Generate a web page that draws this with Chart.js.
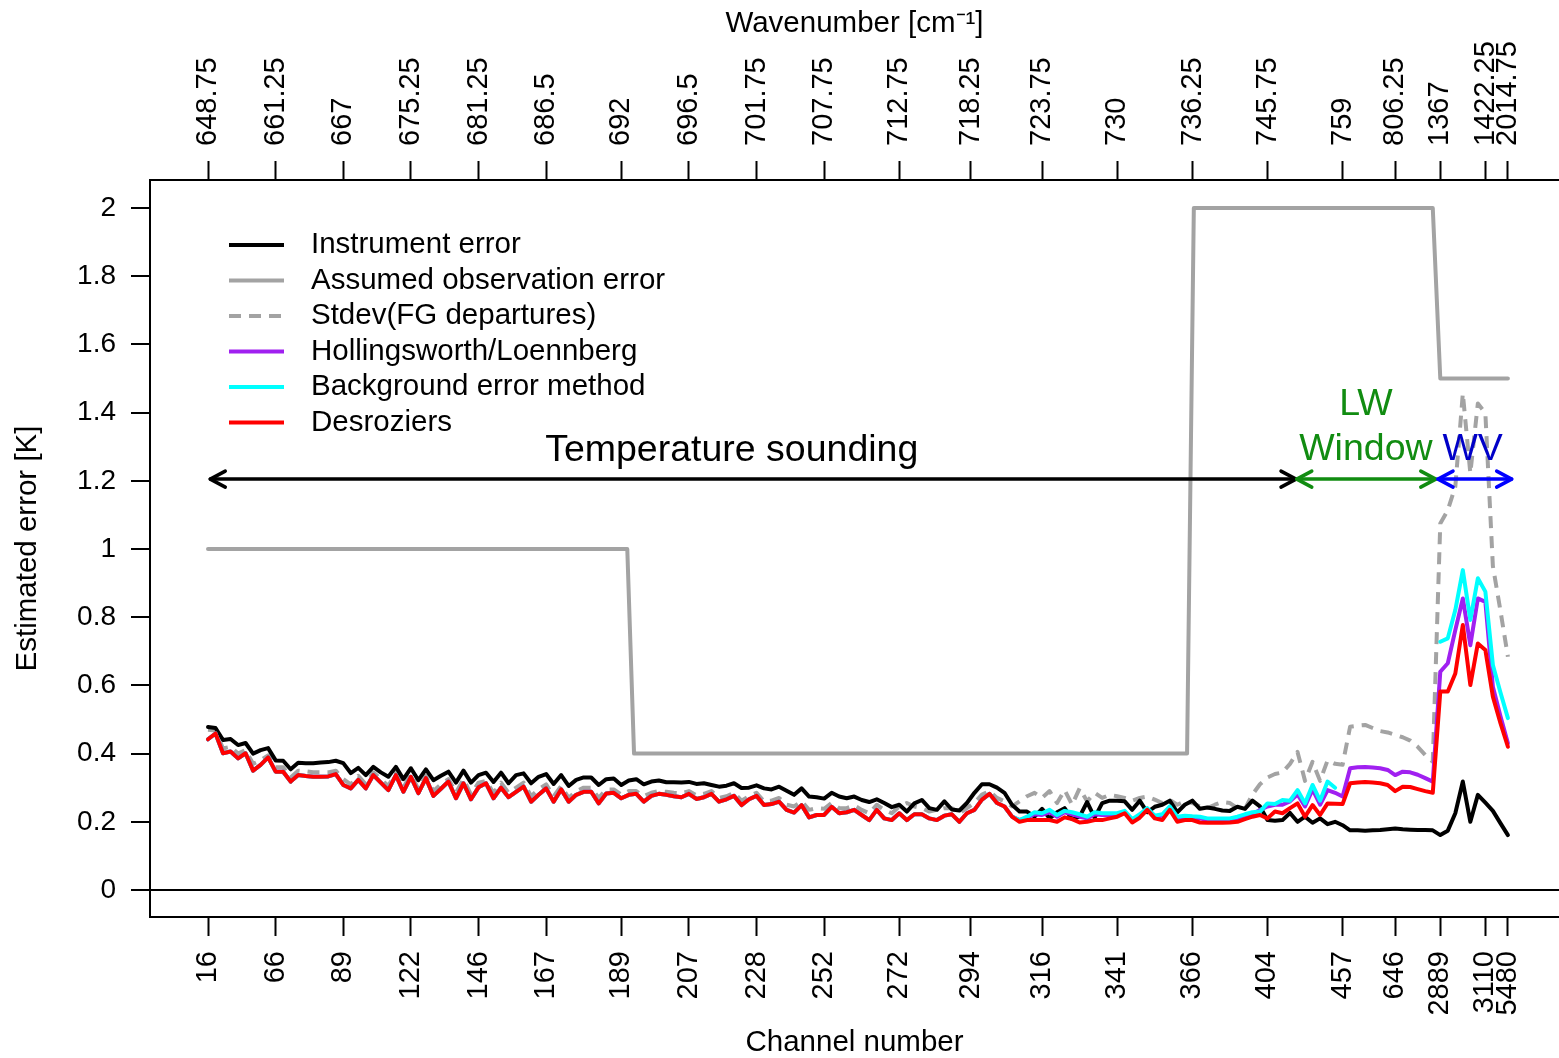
<!DOCTYPE html>
<html>
<head>
<meta charset="utf-8">
<script src="https://cdn.jsdelivr.net/npm/chart.js@4.4.0/dist/chart.umd.min.js"></script>
<style>
  html, body { margin: 0; padding: 0; background: #fff; }
  #wrap { width: 1559px; height: 1058px; }
</style>
</head>
<body>
<div id="wrap"><canvas id="errchart" width="1559" height="1058"></canvas></div>
<script>
// channel index (0..173) is the x value; ticks sit on a few selected channels
const tickIndex = [0, 9, 18, 27, 36, 45, 55, 64, 73, 82, 92, 101.5, 111, 121, 131, 141, 151, 158, 164, 170, 173];
const channelLabels = ['16', '66', '89', '122', '146', '167', '189', '207', '228', '252', '272',
  '294', '316', '341', '366', '404', '457', '646', '2889', '3110', '5480'];
const wavenumberLabels = ['648.75', '661.25', '667', '675.25', '681.25', '686.5', '692', '696.5',
  '701.75', '707.75', '712.75', '718.25', '723.75', '730', '736.25', '745.75', '759', '806.25',
  '1367', '1422.25', '2014.75'];
const yTicks = [0, 0.2, 0.4, 0.6, 0.8, 1, 1.2, 1.4, 1.6, 1.8, 2];

const instrumentErr = [
  .478,.475,.44,.443,.425,.431,.40,.41,.416,.38,
  .379,.354,.373,.372,.372,.374,.375,.379,.372,.343,
  .358,.337,.361,.345,.332,.361,.325,.357,.322,.354,
  .322,.335,.347,.315,.35,.315,.337,.344,.317,.344,
  .313,.337,.342,.313,.332,.34,.311,.337,.305,.323,
  .33,.33,.308,.325,.327,.308,.321,.325,.31,.318,
  .321,.316,.316,.315,.317,.311,.313,.308,.303,.306,
  .313,.299,.30,.307,.298,.295,.303,.291,.279,.298,
  .274,.272,.268,.285,.274,.269,.274,.264,.258,.266,
  .255,.243,.25,.23,.254,.264,.24,.235,.26,.236,
  .233,.255,.285,.31,.31,.30,.285,.25,.23,.23,
  .215,.238,.21,.228,.24,.208,.215,.258,.212,.255,
  .262,.262,.26,.235,.262,.228,.244,.25,.262,.228,
  .25,.262,.238,.242,.238,.233,.232,.244,.238,.262,
  .245,.205,.203,.205,.226,.2,.215,.197,.21,.193,
  .2,.19,.175,.175,.174,.175,.176,.178,.18,.178,
  .177,.176,.176,.175,.161,.174,.225,.318,.2,.279,
  .256,.232,.196,.161
];

// assumed observation error is a step function over channel index
const obsErrX = [0, 55.8, 56.7, 130.3, 131.2, 163, 164, 173];
const obsErrY = [1, 1, 0.4, 0.4, 2, 2, 1.5, 1.5];

const fgStdev = [
  .47,.468,.415,.42,.40,.41,.37,.38,.395,.36,
  .36,.33,.35,.348,.345,.345,.345,.35,.325,.31,
  .335,.31,.345,.325,.305,.345,.30,.34,.295,.335,
  .29,.31,.325,.285,.325,.28,.315,.32,.285,.315,
  .285,.30,.315,.275,.295,.31,.275,.305,.27,.29,
  .30,.30,.27,.295,.295,.28,.29,.29,.275,.285,
  .29,.288,.285,.283,.29,.278,.282,.29,.27,.275,
  .285,.262,.275,.285,.26,.262,.27,.25,.245,.26,
  .235,.24,.238,.255,.24,.24,.248,.235,.225,.25,
  .235,.225,.245,.255,.245,.24,.23,.235,.24,.24,
  .225,.24,.255,.28,.29,.27,.26,.245,.26,.275,
  .285,.27,.29,.255,.293,.25,.298,.26,.285,.27,
  .279,.275,.27,.262,.27,.274,.265,.255,.264,.25,
  .26,.255,.245,.24,.25,.258,.255,.24,.238,.28,
  .31,.33,.34,.345,.37,.405,.32,.376,.32,.38,
  .37,.367,.479,.482,.484,.475,.466,.462,.455,.448,
  .438,.42,.396,.376,1.075,1.114,1.183,1.456,1.222,1.427,
  1.398,.95,.82,.684
];

const hollingsworth = [
  .442,.459,.401,.406,.386,.401,.35,.367,.389,.347,
  .347,.318,.337,.334,.332,.332,.333,.34,.308,.298,
  .323,.298,.337,.315,.293,.337,.288,.332,.284,.328,
  .276,.297,.318,.269,.313,.266,.301,.313,.269,.30,
  .272,.288,.303,.259,.279,.298,.259,.295,.259,.279,
  .288,.288,.254,.283,.285,.269,.279,.282,.259,.276,
  .282,.279,.275,.272,.282,.267,.272,.282,.259,.266,
  .276,.249,.266,.276,.249,.252,.259,.235,.227,.249,
  .213,.22,.22,.244,.225,.228,.235,.22,.205,.235,
  .21,.205,.225,.205,.222,.222,.21,.205,.218,.222,
  .20,.225,.235,.265,.282,.255,.245,.215,.205,.212,
  .222,.22,.228,.215,.228,.222,.215,.21,.222,.22,
  .22,.222,.228,.205,.218,.238,.215,.218,.24,.21,
  .213,.212,.21,.205,.205,.205,.206,.21,.218,.222,
  .235,.245,.25,.25,.26,.28,.245,.295,.25,.293,
  .285,.274,.357,.36,.361,.359,.357,.352,.337,.347,
  .345,.338,.328,.318,.64,.665,.762,.855,.718,.855,
  .845,.596,.51,.43
];

const bgErrMethod = [
  .442,.459,.401,.406,.386,.401,.35,.367,.389,.347,
  .347,.318,.337,.334,.332,.332,.333,.34,.308,.298,
  .323,.298,.337,.315,.293,.337,.288,.332,.284,.328,
  .276,.297,.318,.269,.313,.266,.301,.313,.269,.30,
  .272,.288,.303,.259,.279,.298,.259,.295,.259,.279,
  .288,.288,.254,.283,.285,.269,.279,.282,.259,.276,
  .282,.279,.275,.272,.282,.267,.272,.282,.259,.266,
  .276,.249,.266,.276,.249,.252,.259,.235,.227,.249,
  .213,.22,.22,.244,.225,.228,.235,.22,.205,.235,
  .21,.205,.225,.205,.222,.222,.21,.205,.218,.222,
  .20,.225,.235,.265,.282,.255,.245,.215,.205,.215,
  .228,.225,.235,.22,.232,.228,.222,.215,.228,.225,
  .225,.225,.232,.208,.222,.24,.218,.222,.245,.215,
  .218,.216,.215,.21,.21,.21,.21,.215,.222,.228,
  .23,.254,.252,.264,.262,.293,.254,.308,.262,.318,
  .30,null,null,null,null,null,null,null,null,null,
  null,null,null,null,.728,.738,.821,.938,.792,.914,
  .875,.66,.58,.504
];

const desroziers = [
  .442,.459,.401,.406,.386,.401,.35,.367,.389,.347,
  .347,.318,.337,.334,.332,.332,.333,.34,.308,.298,
  .323,.298,.337,.315,.293,.337,.288,.332,.284,.328,
  .276,.297,.318,.269,.313,.266,.301,.313,.269,.30,
  .272,.288,.303,.259,.279,.298,.259,.295,.259,.279,
  .288,.288,.254,.283,.285,.269,.279,.282,.259,.276,
  .282,.279,.275,.272,.282,.267,.272,.282,.259,.266,
  .276,.249,.266,.276,.249,.252,.259,.235,.227,.249,
  .213,.22,.22,.244,.225,.228,.235,.22,.205,.235,
  .21,.205,.225,.205,.222,.222,.21,.205,.218,.222,
  .20,.225,.235,.265,.282,.255,.245,.215,.20,.205,
  .205,.205,.205,.20,.213,.208,.198,.20,.205,.205,
  .21,.215,.225,.198,.212,.235,.21,.205,.235,.20,
  .205,.205,.198,.197,.197,.197,.198,.20,.208,.215,
  .22,.21,.23,.225,.24,.254,.215,.249,.22,.254,
  .253,.252,.313,.315,.317,.315,.313,.308,.29,.303,
  .302,.296,.29,.285,.582,.582,.635,.777,.601,.723,
  .704,.567,.49,.42
];

// region arrows and labels (channel index / error value)
const regions = [
  { from: 0.3, to: 144.8, color: '#000000' },
  { from: 144.9, to: 163.4, color: '#118c11' },
  { from: 163.7, to: 173.5, color: '#0000ff' }
];
const regionTexts = [
  { text: 'Temperature sounding', x: 69.7, y: 1.287, color: '#000000' },
  { text: 'LW', x: 154.1, y: 1.422, color: '#118c11' },
  { text: 'Window', x: 154.1, y: 1.29, color: '#118c11' },
  { text: 'WV', x: 168.3, y: 1.29, color: '#0000c8' }
];
const arrowLevel = 1.205;

const FONT = '"Liberation Sans", Arial, Helvetica, sans-serif';
Chart.defaults.font.family = FONT;
Chart.defaults.color = '#000';

const xMin = -7.72, xMax = 179.8;
const yMin = -0.0792, yMax = 2.0821;

function toPoints(arr) {
  return arr.map((v, i) => ({ x: i, y: v }));
}

const common = { pointRadius: 0, borderWidth: 4, tension: 0, fill: false, spanGaps: false,
  borderJoinStyle: 'round', borderCapStyle: 'round' };

const datasets = [
  Object.assign({ label: 'Instrument error', data: toPoints(instrumentErr), borderColor: '#000000', order: 4 }, common),
  Object.assign({ label: 'Assumed observation error', data: obsErrX.map((x, i) => ({ x: x, y: obsErrY[i] })),
    borderColor: '#a3a3a3', order: 6 }, common),
  Object.assign({}, common, { label: 'Stdev(FG departures)', data: toPoints(fgStdev), borderColor: '#a3a3a3',
    borderDash: [12, 8], borderCapStyle: 'butt', order: 5 }),
  Object.assign({ label: 'Hollingsworth/Loennberg', data: toPoints(hollingsworth), borderColor: '#a020f0', order: 3 }, common),
  Object.assign({ label: 'Background error method', data: toPoints(bgErrMethod), borderColor: '#00ffff', order: 2 }, common),
  Object.assign({ label: 'Desroziers', data: toPoints(desroziers), borderColor: '#ff0000', order: 1 }, common)
];

function drawArrowHead(ctx, x, y, dir) {
  const len = 15, half = 8;
  ctx.beginPath();
  ctx.moveTo(x - dir * len, y - half);
  ctx.lineTo(x, y);
  ctx.lineTo(x - dir * len, y + half);
  ctx.stroke();
}

const overlay = {
  id: 'overlay',
  afterDraw(chart) {
    const ctx = chart.ctx;
    const a = chart.chartArea;
    const xs = chart.scales.x, ys = chart.scales.y;
    ctx.save();

    // plot box (right side runs off the canvas)
    ctx.strokeStyle = '#000';
    ctx.lineWidth = 2;
    ctx.strokeRect(a.left, a.top, a.right - a.left + 2, a.bottom - a.top);

    // legend
    ctx.font = '29.5px ' + FONT;
    ctx.textAlign = 'left';
    ctx.textBaseline = 'middle';
    chart.data.datasets.forEach((ds, k) => {
      const y = a.top + 65 + k * 35.5;
      ctx.strokeStyle = ds.borderColor;
      ctx.lineWidth = 4;
      ctx.setLineDash(ds.borderDash || []);
      ctx.beginPath();
      ctx.moveTo(a.left + 79, y);
      ctx.lineTo(a.left + 134, y);
      ctx.stroke();
      ctx.setLineDash([]);
      ctx.fillStyle = '#000';
      ctx.fillText(ds.label, a.left + 161, y);
    });

    // region arrows
    const ay = ys.getPixelForValue(arrowLevel);
    ctx.lineWidth = 3.5;
    ctx.lineCap = 'round';
    ctx.lineJoin = 'round';
    regions.forEach(r => {
      const x1 = xs.getPixelForValue(r.from), x2 = xs.getPixelForValue(r.to);
      ctx.strokeStyle = r.color;
      ctx.beginPath();
      ctx.moveTo(x1, ay);
      ctx.lineTo(x2, ay);
      ctx.stroke();
      drawArrowHead(ctx, x1, ay, -1);
      drawArrowHead(ctx, x2, ay, 1);
    });

    // region labels
    ctx.font = '37.5px ' + FONT;
    ctx.textAlign = 'center';
    regionTexts.forEach(t => {
      ctx.fillStyle = t.color;
      ctx.fillText(t.text, xs.getPixelForValue(t.x), ys.getPixelForValue(t.y));
    });
    ctx.restore();
  }
};

function xAxis(position, labels, title, height, titlePad, shift, titleLH) {
  return {
    type: 'linear', position: position, min: xMin, max: xMax,
    afterBuildTicks: s => { s.ticks = tickIndex.map(v => ({ value: v })); },
    afterFit: s => { s.height = height; },
    grid: { drawOnChartArea: false, drawTicks: true, tickLength: 19, tickColor: '#000', tickWidth: 2 },
    border: { display: false },
    ticks: { autoSkip: false, minRotation: 90, maxRotation: 90, padding: 15, labelOffset: shift,
      font: { size: 29 }, color: '#000', callback: (v, i) => labels[i] },
    title: { display: true, text: title, font: { size: 29.5, lineHeight: titleLH }, color: '#000', padding: titlePad }
  };
}

new Chart(document.getElementById('errchart'), {
  type: 'line',
  data: { datasets: datasets },
  options: {
    responsive: false,
    animation: false,
    devicePixelRatio: 1,
    layout: { padding: 0 },
    plugins: { legend: { display: false }, tooltip: { enabled: false } },
    scales: {
      x: xAxis('bottom', channelLabels, 'Channel number', 141, { top: 0, bottom: 0 }, 0, 1.0),
      x2: xAxis('top', wavenumberLabels, 'Wavenumber [cm\u207B\u00B9]', 180, { top: 6, bottom: 0 }, 35, 1.2),
      y: {
        type: 'linear', position: 'left', min: yMin, max: yMax,
        afterBuildTicks: s => { s.ticks = yTicks.map(v => ({ value: v })); },
        afterFit: s => { s.width = 150; },
        grid: { color: c => (c.tick && c.tick.value === 0 ? '#000' : 'rgba(0,0,0,0)'),
          lineWidth: 2, tickColor: '#000', tickLength: 19, tickWidth: 2 },
        border: { display: false },
        ticks: { padding: 15, font: { size: 28 }, color: '#000',
          callback: v => String(+v.toFixed(1)) },
        title: { display: true, text: 'Estimated error [K]', font: { size: 29.5 }, color: '#000',
          padding: { top: 10, bottom: 0 } }
      }
    }
  },
  plugins: [overlay]
});
</script>
</body>
</html>
